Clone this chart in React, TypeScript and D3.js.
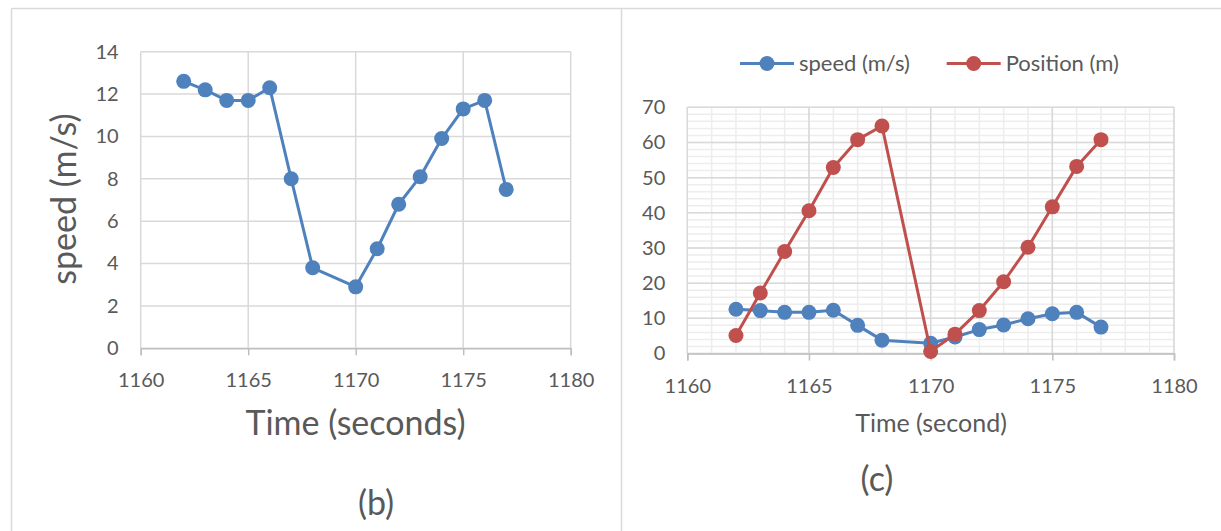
import React, { useEffect, useRef } from 'react';
import * as d3 from 'd3';

// time stamps (s) shared by both panels, 1169 is missing in the source
const timeSeconds = [1162, 1163, 1164, 1165, 1166, 1167, 1168, 1170, 1171, 1172, 1173, 1174, 1175, 1176, 1177];
const speedValues = [12.6, 12.2, 11.7, 11.7, 12.3, 8.0, 3.8, 2.9, 4.7, 6.8, 8.1, 9.9, 11.3, 11.7, 7.5];
const positionValues = [5.1, 17.2, 29.0, 40.6, 52.9, 60.8, 64.7, 0.6, 5.5, 12.2, 20.4, 30.2, 41.7, 53.2, 60.8];

const xTicks = [1160, 1165, 1170, 1175, 1180];
const speedTicks = [0, 2, 4, 6, 8, 10, 12, 14];
const positionTicks = [0, 10, 20, 30, 40, 50, 60, 70];
const seriesNames = ['speed (m/s)', 'Position (m)'];

const BLUE = '#4f81bd';
const RED = '#c0504d';
const TEXT = '#595959';
const FONT = 'Lato, "Open Sans", sans-serif';

type Panel = {
  left: number;
  right: number;
  top: number;
  bottom: number;
  yTicks: number[];
  minor: boolean;
};

const App = () => {
  const svgRef = useRef<SVGSVGElement>(null);

  useEffect(() => {
    const svg = d3.select(svgRef.current);
    svg.selectAll('*').remove();

    svg.append('rect').attr('width', 1221).attr('height', 531).attr('fill', 'white');

    // frames around the two pictures
    svg.append('line').attr('x1', 11.5).attr('x2', 1221).attr('y1', 8.5).attr('y2', 8.5)
      .attr('stroke', '#d9d9d9').attr('stroke-width', 1.5);
    svg.append('line').attr('x1', 11.5).attr('x2', 11.5).attr('y1', 8.5).attr('y2', 531)
      .attr('stroke', '#d9d9d9').attr('stroke-width', 1.5);
    svg.append('line').attr('x1', 621.5).attr('x2', 621.5).attr('y1', 8.5).attr('y2', 531)
      .attr('stroke', '#d9d9d9').attr('stroke-width', 1.5);

    const drawPanel = (p: Panel) => {
      const yMax = p.yTicks[p.yTicks.length - 1];
      const x = d3.scaleLinear().domain([1160, 1180]).range([p.left, p.right]);
      const y = d3.scaleLinear().domain([0, yMax]).range([p.bottom, p.top]);
      const g = svg.append('g');

      if (p.minor) {
        const step = (p.yTicks[1] - p.yTicks[0]) / 5;
        g.append('g').selectAll('line')
          .data(d3.range(0, yMax + 0.001, step))
          .enter().append('line')
          .attr('x1', p.left).attr('x2', p.right)
          .attr('y1', d => y(d)).attr('y2', d => y(d))
          .attr('stroke', '#ededed').attr('stroke-width', 1.5);
        g.append('g').selectAll('line')
          .data(d3.range(1160, 1181, 1))
          .enter().append('line')
          .attr('x1', d => x(d)).attr('x2', d => x(d))
          .attr('y1', p.top).attr('y2', p.bottom)
          .attr('stroke', '#ededed').attr('stroke-width', 1.5);
      }

      g.append('g').selectAll('line')
        .data(p.yTicks)
        .enter().append('line')
        .attr('x1', p.left).attr('x2', p.right)
        .attr('y1', d => y(d)).attr('y2', d => y(d))
        .attr('stroke', '#d9d9d9').attr('stroke-width', 1.5);
      g.append('g').selectAll('line')
        .data(xTicks)
        .enter().append('line')
        .attr('x1', d => x(d)).attr('x2', d => x(d))
        .attr('y1', p.top).attr('y2', p.bottom)
        .attr('stroke', '#d9d9d9').attr('stroke-width', 1.5);

      const xAxis = g.append('g')
        .attr('transform', `translate(0,${p.bottom})`)
        .call(d3.axisBottom(x).tickValues(xTicks).tickSize(7).tickPadding(18).tickFormat(d3.format('d')));
      xAxis.selectAll('path, line').attr('stroke', '#bfbfbf').attr('stroke-width', 1.5);
      xAxis.selectAll('text').attr('fill', TEXT).style('font-family', FONT).style('font-size', '20px');

      const yAxis = g.append('g')
        .attr('transform', `translate(${p.left},0)`)
        .call(d3.axisLeft(y).tickValues(p.yTicks).tickSize(0).tickPadding(22));
      yAxis.select('.domain').remove();
      yAxis.selectAll('text').attr('fill', TEXT).style('font-family', FONT).style('font-size', '20px');

      return { x, y };
    };

    const drawSeries = (x: d3.ScaleLinear<number, number>, y: d3.ScaleLinear<number, number>, values: number[], color: string) => {
      const line = d3.line<number>()
        .x((d, i) => x(timeSeconds[i]))
        .y(d => y(d));
      svg.append('path')
        .datum(values)
        .attr('d', line)
        .attr('fill', 'none')
        .attr('stroke', color)
        .attr('stroke-width', 3)
        .attr('stroke-linejoin', 'round');
      svg.append('g').selectAll('circle')
        .data(values)
        .enter().append('circle')
        .attr('cx', (d, i) => x(timeSeconds[i]))
        .attr('cy', d => y(d))
        .attr('r', 7.5)
        .attr('fill', color);
    };

    const addText = (label: string, px: number, py: number, size: number, rotate = 0) => {
      svg.append('text')
        .attr('transform', `translate(${px},${py}) rotate(${rotate})`)
        .attr('text-anchor', 'middle')
        .attr('fill', TEXT)
        .style('font-family', FONT)
        .style('font-size', `${size}px`)
        .text(label);
    };

    // (b) speed only
    const b = drawPanel({ left: 140.7, right: 570.7, top: 51.7, bottom: 348.3, yTicks: speedTicks, minor: false });
    drawSeries(b.x, b.y, speedValues, BLUE);
    addText('speed (m/s)', 76, 199, 34, -90);
    addText('Time (seconds)', 355.5, 435, 34);
    addText('(b)', 376, 515, 34);

    // (c) speed and position
    const c = drawPanel({ left: 687.3, right: 1174, top: 107.3, bottom: 353.5, yTicks: positionTicks, minor: true });
    drawSeries(c.x, c.y, speedValues, BLUE);
    drawSeries(c.x, c.y, positionValues, RED);
    addText('Time (second)', 931, 431.5, 25);
    addText('(c)', 877, 491, 34);

    // legend
    const legendY = 63.5;
    const legendItems = [
      { name: seriesNames[0], color: BLUE, x0: 740 },
      { name: seriesNames[1], color: RED, x0: 946.7 },
    ];
    legendItems.forEach(item => {
      svg.append('line')
        .attr('x1', item.x0).attr('x2', item.x0 + 54)
        .attr('y1', legendY).attr('y2', legendY)
        .attr('stroke', item.color).attr('stroke-width', 3);
      svg.append('circle')
        .attr('cx', item.x0 + 27).attr('cy', legendY).attr('r', 7.5)
        .attr('fill', item.color);
      svg.append('text')
        .attr('x', item.x0 + 59).attr('y', legendY)
        .attr('dy', '0.35em')
        .attr('fill', TEXT)
        .style('font-family', FONT)
        .style('font-size', '22px')
        .text(item.name);
    });
  }, []);

  return (
    <div style={{ position: 'absolute', left: 0, top: 0 }}>
      <svg ref={svgRef} width={1221} height={531} style={{ display: 'block' }}></svg>
    </div>
  );
};

export default App;
